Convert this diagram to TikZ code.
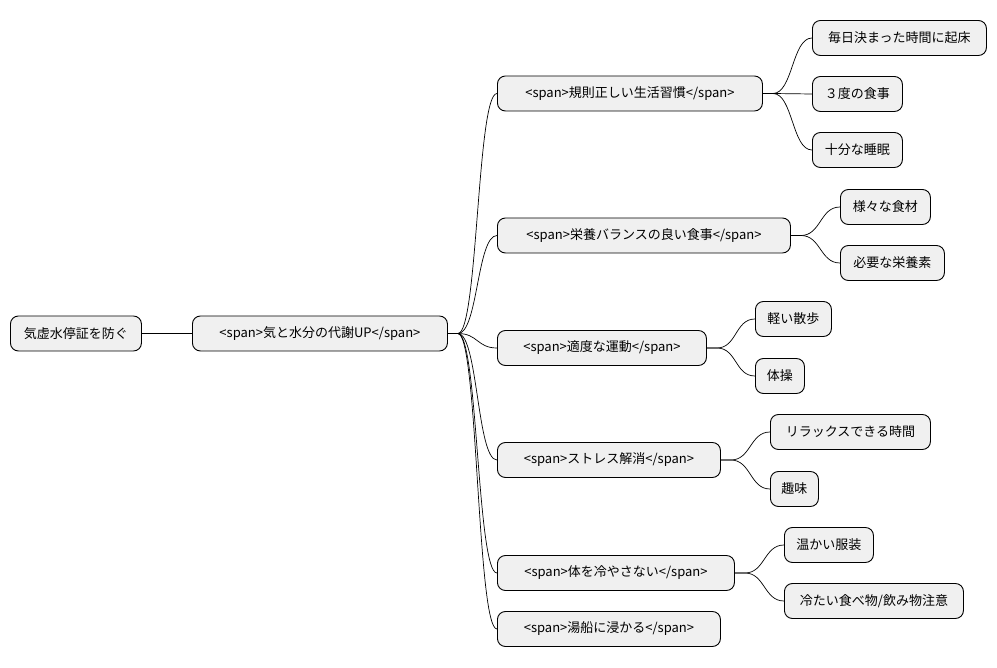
\documentclass[tikz,border=0pt]{standalone}
\usepackage{fontspec}
\setmainfont{Noto Sans CJK JP}
\begin{document}
\begin{tikzpicture}[x=1pt,y=-1pt,
  box/.style={draw=black,fill=black!6,rounded corners=8pt,line width=0.9pt,minimum height=35pt,anchor=west,inner sep=0pt,font=\fontsize{13}{15}\selectfont},
  link/.style={draw=black,line width=0.7pt}]
\useasboundingbox (0,0) rectangle (997,668);
\newcommand{\bx}[5]{\node[box,minimum width=#4-#3] (#1) at (#3,#5) {#2};}
\bx{root}{気虚水停証を防ぐ}{10}{141}{333.5}
\bx{a}{<span>気と水分の代謝UP</span>}{192}{447}{333.5}
\bx{b1}{<span>規則正しい生活習慣</span>}{497}{762}{93.5}
\bx{b2}{<span>栄養バランスの良い食事</span>}{497}{790}{235.5}
\bx{b3}{<span>適度な運動</span>}{497}{706}{348}
\bx{b4}{<span>ストレス解消</span>}{497}{720}{460}
\bx{b5}{<span>体を冷やさない</span>}{497}{734}{573}
\bx{b6}{<span>湯船に浸かる</span>}{497}{720}{629}
\bx{c1}{毎日決まった時間に起床}{812}{986}{38}
\bx{c2}{３度の食事}{812}{902}{94}
\bx{c3}{十分な睡眠}{812}{902}{150}
\bx{c4}{様々な食材}{840}{930}{207}
\bx{c5}{必要な栄養素}{840}{944}{263}
\bx{c6}{軽い散歩}{755}{831}{319}
\bx{c7}{体操}{755}{804}{376}
\bx{c8}{リラックスできる時間}{770}{930}{432}
\bx{c9}{趣味}{770}{818}{489}
\bx{c10}{温かい服装}{784}{873}{545}
\bx{c11}{冷たい食べ物/飲み物注意}{784}{963}{601}
\newcommand{\lk}[2]{\draw[link] (#1.east) -- ++(10,0) .. controls +(20,0) and +(-20,0) .. (#2.west);}
\lk{root}{a}
\lk{a}{b1}\lk{a}{b2}\lk{a}{b3}\lk{a}{b4}\lk{a}{b5}\lk{a}{b6}
\lk{b1}{c1}\lk{b1}{c2}\lk{b1}{c3}
\lk{b2}{c4}\lk{b2}{c5}
\lk{b3}{c6}\lk{b3}{c7}
\lk{b4}{c8}\lk{b4}{c9}
\lk{b5}{c10}\lk{b5}{c11}
\end{tikzpicture}
\end{document}
